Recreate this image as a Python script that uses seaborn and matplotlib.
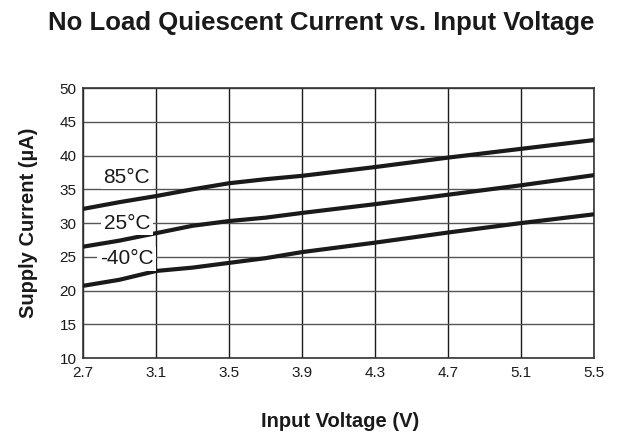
import numpy as np
import pandas as pd
import seaborn as sns
import matplotlib.pyplot as plt

voltage = [2.7, 2.9, 3.1, 3.3, 3.5, 3.7, 3.9, 4.3, 4.7, 5.1, 5.5]
temps = ['85°C', '25°C', '-40°C']
current_85 = [32.1, 33.1, 34.0, 35.0, 35.9, 36.5, 37.0, 38.3, 39.7, 41.0, 42.3]
current_25 = [26.5, 27.4, 28.5, 29.6, 30.3, 30.8, 31.5, 32.8, 34.2, 35.6, 37.1]
current_m40 = [20.7, 21.6, 22.9, 23.4, 24.1, 24.8, 25.7, 27.1, 28.6, 30.0, 31.3]

df = pd.DataFrame({
    'voltage': voltage * 3,
    'current': current_85 + current_25 + current_m40,
    'temp': [t for t in temps for _ in voltage],
})

sns.set_style('white')
plt.rcParams['font.family'] = ['Liberation Sans', 'DejaVu Sans']

fig = plt.figure(figsize=(6.24, 4.34), dpi=100)
ax = fig.add_axes([0.133, 0.175, 0.819, 0.622])

sns.lineplot(data=df, x='voltage', y='current', hue='temp',
             palette=['#1a1a1a'] * 3, linewidth=3, legend=False, ax=ax, zorder=3)

ax.set_xlim(2.7, 5.5)
ax.set_ylim(10, 50)
ax.set_xticks(np.arange(2.7, 5.51, 0.4))
ax.set_xticklabels(['2.7', '3.1', '3.5', '3.9', '4.3', '4.7', '5.1', '5.5'])
ax.set_yticks(range(10, 51, 5))
ax.grid(True, axis='x', color='#1a1a1a', linewidth=1)
ax.grid(True, axis='y', color='#555555', linewidth=1)
for s in ax.spines.values():
    s.set_color('#333333')
    s.set_linewidth(1.2)
ax.tick_params(axis='both', length=0, labelsize=11, colors='#1a1a1a')
ax.tick_params(axis='x', pad=6)
ax.tick_params(axis='y', pad=4.5)

# temperature labels sit on the grid with a white background
label_pos = [(2.94, 36.8), (2.94, 30.0), (2.94, 24.7)]
for t, (x, y) in zip(temps, label_pos):
    ax.text(x, y, t, fontsize=15, color='#1a1a1a', ha='center', va='center',
            bbox=dict(facecolor='white', edgecolor='none', pad=2), zorder=4)

ax.set_xlabel('Input Voltage (V)', fontsize=14.5, fontweight='bold', color='#1a1a1a')
ax.xaxis.set_label_coords(0.503, -0.2556)
ax.xaxis.label.set_va('baseline')
ax.set_ylabel('Supply Current (µA)', fontsize=14.5, fontweight='bold', color='#1a1a1a')
ax.yaxis.set_label_coords(-0.088, 0.5)

fig.text(0.514, 0.931, 'No Load Quiescent Current vs. Input Voltage', fontsize=18.5,
         fontweight='bold', color='#1a1a1a', ha='center', va='baseline')

fig.savefig('out.png', dpi=100)
